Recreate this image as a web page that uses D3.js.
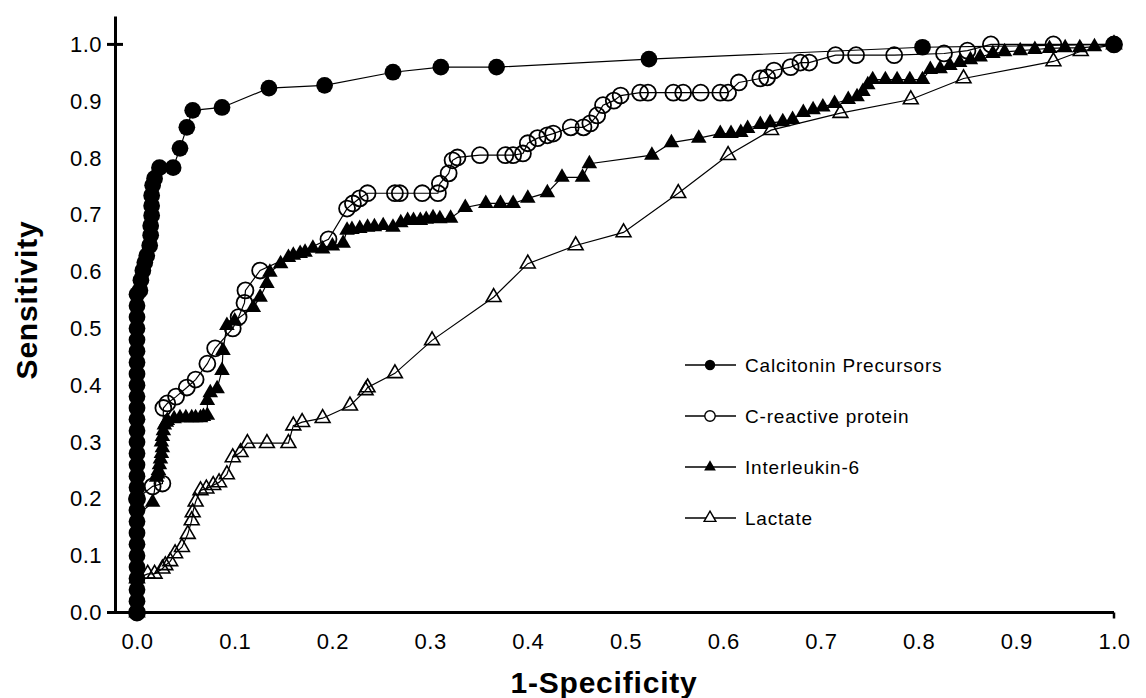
<!DOCTYPE html>
<html>
<head>
<meta charset="utf-8">
<script src="https://cdn.jsdelivr.net/npm/d3@7"></script>
<style>
  body { margin: 0; background: #fff; }
  text { font-family: "Liberation Sans", Arial, sans-serif; fill: #000; }
</style>
</head>
<body>
<script>
// ROC data, [1-specificity, sensitivity] pairs
var calcitonin = [
  [0,0],[0,0.02],[0,0.04],[0,0.06],[0,0.08],[0,0.10],[0,0.12],[0,0.14],[0,0.16],[0,0.18],
  [0,0.20],[0,0.22],[0,0.24],[0,0.26],[0,0.28],[0,0.30],[0,0.32],[0,0.34],[0,0.36],[0,0.38],
  [0,0.40],[0,0.42],[0,0.44],[0,0.46],[0,0.48],[0,0.50],[0,0.52],[0,0.54],[0,0.56],
  [0.003,0.567],[0.004,0.585],[0.006,0.602],[0.008,0.616],[0.010,0.628],[0.013,0.646],
  [0.014,0.664],[0.014,0.681],[0.015,0.699],[0.015,0.716],[0.015,0.734],[0.016,0.752],
  [0.018,0.764],[0.023,0.783],[0.037,0.783],[0.044,0.817],[0.051,0.854],[0.057,0.884],
  [0.087,0.889],[0.135,0.923],[0.192,0.928],[0.262,0.951],[0.311,0.96],[0.368,0.96],
  [0.524,0.974],[0.804,0.995],[1.0,1.0]
];
var crp = [
  [0,0],[0,0.2],[0.016,0.222],[0.026,0.227],[0.027,0.36],[0.031,0.368],[0.04,0.38],
  [0.051,0.396],[0.06,0.41],[0.072,0.438],[0.08,0.465],[0.098,0.5],[0.104,0.52],
  [0.11,0.545],[0.111,0.567],[0.126,0.602],[0.196,0.657],[0.215,0.711],[0.221,0.72],
  [0.228,0.729],[0.236,0.738],[0.264,0.738],[0.269,0.738],[0.292,0.738],[0.308,0.738],
  [0.31,0.755],[0.319,0.773],[0.323,0.796],[0.328,0.801],[0.351,0.805],[0.377,0.805],
  [0.385,0.805],[0.395,0.808],[0.4,0.826],[0.41,0.835],[0.42,0.84],[0.426,0.843],
  [0.444,0.854],[0.457,0.854],[0.464,0.861],[0.471,0.875],[0.477,0.893],[0.488,0.901],
  [0.495,0.91],[0.515,0.915],[0.523,0.915],[0.549,0.915],[0.559,0.915],[0.577,0.915],
  [0.597,0.915],[0.605,0.915],[0.616,0.933],[0.638,0.94],[0.645,0.942],[0.652,0.954],
  [0.669,0.96],[0.679,0.968],[0.688,0.968],[0.715,0.981],[0.736,0.981],[0.775,0.981],
  [0.826,0.984],[0.85,0.989],[0.874,1.0],[0.938,1.0],[1.0,1.0]
];
var il6 = [
  [0,0],[0,0.17],[0.016,0.194],[0.02,0.238],[0.021,0.244],[0.022,0.25],[0.023,0.26],
  [0.024,0.27],[0.025,0.28],[0.026,0.29],[0.025,0.3],[0.026,0.31],[0.027,0.32],
  [0.028,0.33],[0.03,0.335],[0.031,0.338],[0.038,0.341],[0.044,0.343],[0.05,0.343],
  [0.056,0.343],[0.06,0.343],[0.065,0.343],[0.068,0.345],[0.072,0.347],[0.072,0.373],
  [0.075,0.387],[0.082,0.394],[0.087,0.426],[0.088,0.461],[0.092,0.505],[0.1,0.513],
  [0.119,0.537],[0.126,0.555],[0.133,0.579],[0.136,0.599],[0.147,0.614],[0.155,0.625],
  [0.16,0.629],[0.167,0.632],[0.172,0.634],[0.18,0.641],[0.19,0.64],[0.2,0.645],
  [0.211,0.65],[0.215,0.673],[0.22,0.674],[0.228,0.676],[0.236,0.678],[0.243,0.679],
  [0.252,0.681],[0.262,0.678],[0.27,0.686],[0.277,0.69],[0.283,0.69],[0.29,0.69],
  [0.296,0.692],[0.303,0.695],[0.31,0.693],[0.321,0.694],[0.336,0.713],[0.357,0.72],
  [0.372,0.72],[0.385,0.72],[0.4,0.729],[0.42,0.739],[0.435,0.766],[0.456,0.766],
  [0.463,0.79],[0.527,0.805],[0.547,0.827],[0.575,0.835],[0.597,0.843],[0.608,0.843],
  [0.618,0.845],[0.625,0.852],[0.638,0.859],[0.648,0.862],[0.661,0.864],[0.671,0.868],
  [0.682,0.88],[0.692,0.885],[0.702,0.89],[0.714,0.896],[0.728,0.903],[0.737,0.908],
  [0.743,0.917],[0.748,0.929],[0.753,0.938],[0.766,0.938],[0.778,0.938],[0.791,0.938],
  [0.804,0.938],[0.812,0.956],[0.822,0.957],[0.832,0.963],[0.842,0.968],[0.853,0.973],
  [0.863,0.978],[0.876,0.984],[0.888,0.987],[0.904,0.989],[0.919,0.991],[0.934,0.993],
  [0.95,0.994],[0.965,0.994],[0.98,0.996],[1.0,1.0]
];
var lactate = [
  [0,0],[0,0.06],[0.011,0.068],[0.018,0.068],[0.026,0.077],[0.029,0.083],[0.034,0.09],
  [0.039,0.104],[0.046,0.115],[0.052,0.138],[0.056,0.162],[0.057,0.176],[0.06,0.195],
  [0.065,0.215],[0.071,0.218],[0.078,0.224],[0.084,0.229],[0.092,0.243],[0.098,0.273],
  [0.106,0.282],[0.113,0.298],[0.133,0.298],[0.155,0.298],[0.16,0.329],[0.169,0.335],
  [0.19,0.342],[0.218,0.364],[0.234,0.391],[0.236,0.396],[0.264,0.421],[0.302,0.479],
  [0.365,0.555],[0.4,0.614],[0.449,0.646],[0.498,0.669],[0.554,0.738],[0.605,0.805],
  [0.649,0.849],[0.72,0.879],[0.792,0.903],[0.846,0.94],[0.938,0.97],[0.966,0.988],
  [1.0,1.0]
];

var seriesNames = ["Calcitonin Precursors", "C-reactive protein", "Interleukin-6", "Lactate"];
var xTicks = [0, 0.1, 0.2, 0.3, 0.4, 0.5, 0.6, 0.7, 0.8, 0.9, 1.0];
var yTicks = [0, 0.1, 0.2, 0.3, 0.4, 0.5, 0.6, 0.7, 0.8, 0.9, 1.0];

var width = 1146, height = 698;

var svg = d3.select("body")
  .append("svg")
    .attr("width", width)
    .attr("height", height);

var x = d3.scaleLinear().domain([0, 1]).range([137, 1114]);
var y = d3.scaleLinear().domain([0, 1.05]).range([612.5, 16]);
var axisX = 115;

// marker styles per series
var styles = [
  {data: calcitonin, shape: d3.symbolCircle,   size: 220, fill: "#000",  stroke: "none", sw: 0},
  {data: crp,        shape: d3.symbolCircle,   size: 200, fill: "none",  stroke: "#000", sw: 1.8},
  {data: il6,        shape: d3.symbolTriangle, size: 105, fill: "#000",  stroke: "none", sw: 0},
  {data: lactate,    shape: d3.symbolTriangle, size: 95,  fill: "none",  stroke: "#000", sw: 1.6}
];

var line = d3.line()
  .x(function(d) { return x(d[0]); })
  .y(function(d) { return y(d[1]); });

// draw series, last first so calcitonin ends on top
styles.slice().reverse().forEach(function(s) {
  var g = svg.append("g");
  g.append("path")
    .datum(s.data)
    .attr("d", line)
    .attr("fill", "none")
    .attr("stroke", "#000")
    .attr("stroke-width", 1.2);
  g.selectAll("path.pt")
    .data(s.data)
    .enter()
    .append("path")
      .attr("class", "pt")
      .attr("d", d3.symbol().type(s.shape).size(s.size))
      .attr("transform", function(d) { return "translate(" + x(d[0]) + "," + y(d[1]) + ")"; })
      .attr("fill", s.fill)
      .attr("stroke", s.stroke)
      .attr("stroke-width", s.sw);
});

// Y axis
var yAxis = svg.append("g")
  .attr("transform", "translate(" + axisX + ",0)")
  .call(d3.axisLeft(y).tickValues(yTicks).tickFormat(d3.format(".1f")).tickSize(0).tickSizeOuter(0).tickPadding(13));
yAxis.select(".domain").attr("stroke-width", 3);
yAxis.selectAll("text").style("font-size", "22px").style("letter-spacing", "0.5px");
// tick marks at 0 and 1 only
svg.selectAll("line.ytick")
  .data([0, 1])
  .enter()
  .append("line")
    .attr("x1", axisX - 8)
    .attr("x2", function(d) { return d === 1 ? axisX + 8 : axisX; })
    .attr("y1", function(d) { return y(d); })
    .attr("y2", function(d) { return y(d); })
    .attr("stroke", "#000")
    .attr("stroke-width", 3);

// X axis
var xAxis = svg.append("g")
  .attr("transform", "translate(0," + y(0) + ")")
  .call(d3.axisBottom(x).tickValues(xTicks).tickFormat(d3.format(".1f")).tickSize(0).tickPadding(21));
xAxis.select(".domain").remove();
xAxis.selectAll("text").style("font-size", "22px").style("letter-spacing", "0.5px");
svg.append("line")
  .attr("x1", axisX).attr("x2", x(1))
  .attr("y1", y(0)).attr("y2", y(0))
  .attr("stroke", "#000").attr("stroke-width", 3);
svg.append("line")
  .attr("x1", x(1)).attr("x2", x(1))
  .attr("y1", y(0)).attr("y2", y(0) + 6)
  .attr("stroke", "#000").attr("stroke-width", 2.5);

// axis titles
svg.append("text")
  .attr("text-anchor", "middle")
  .attr("x", 604)
  .attr("y", 693)
  .style("font-size", "30px")
  .style("font-weight", "bold")
  .style("letter-spacing", "0.8px")
  .text("1-Specificity");

svg.append("text")
  .attr("text-anchor", "middle")
  .attr("transform", "translate(37,300) rotate(-90)")
  .style("font-size", "30px")
  .style("font-weight", "bold")
  .style("letter-spacing", "0.8px")
  .text("Sensitivity");

// legend
var legend = svg.append("g").attr("transform", "translate(685,365)");
var rows = legend.selectAll("g")
  .data(styles)
  .enter()
  .append("g")
    .attr("transform", function(d, i) { return "translate(0," + (i * 51) + ")"; });
rows.append("line")
  .attr("x1", 0).attr("x2", 51)
  .attr("stroke", "#000").attr("stroke-width", 1.5);
rows.append("path")
  .attr("d", function(d) { return d3.symbol().type(d.shape).size(d.shape === d3.symbolCircle ? 85 : 60)(); })
  .attr("transform", "translate(25,0)")
  .attr("fill", function(d) { return d.fill === "none" ? "#fff" : d.fill; })
  .attr("stroke", function(d) { return d.stroke; })
  .attr("stroke-width", 1.4);
rows.append("text")
  .attr("x", 60)
  .attr("dy", "0.36em")
  .style("font-size", "19px")
  .style("letter-spacing", "0.8px")
  .text(function(d, i) { return seriesNames[i]; });
</script>
</body>
</html>
